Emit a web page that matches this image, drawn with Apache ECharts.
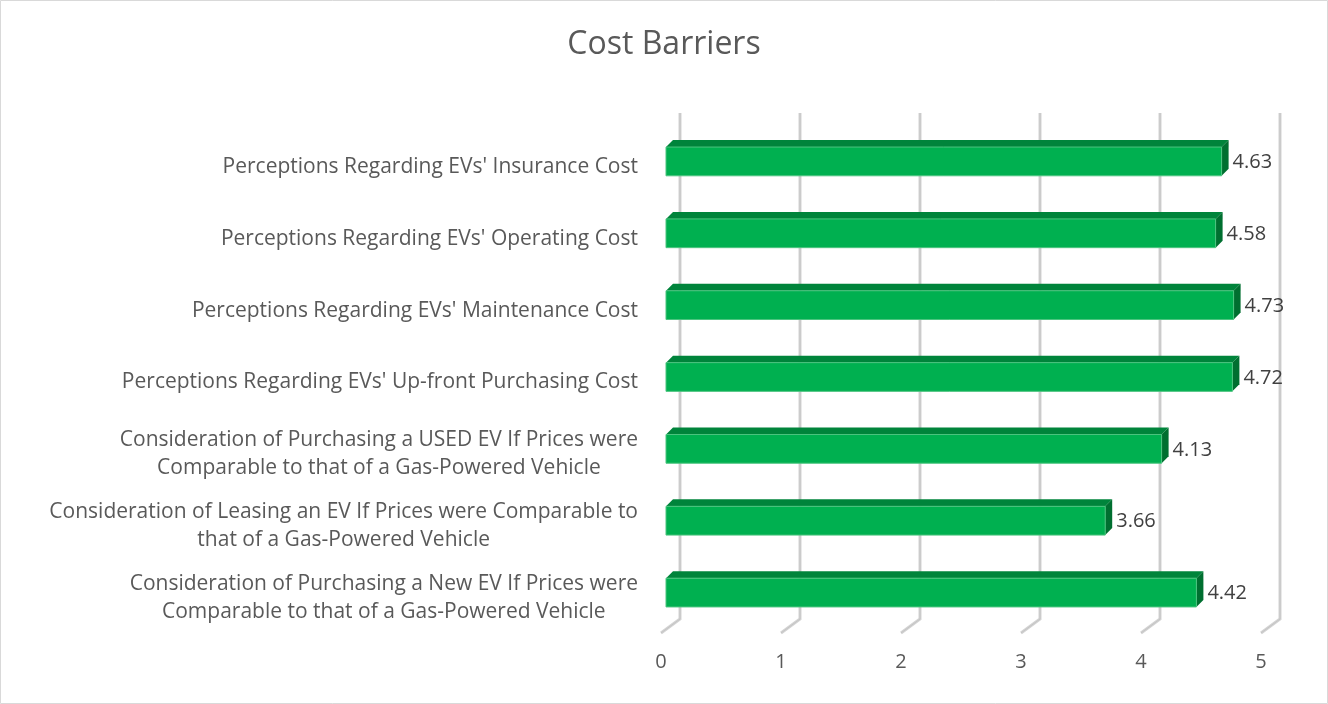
<!DOCTYPE html>
<html>
<head>
<meta charset="utf-8">
<title>Cost Barriers</title>
<script src="https://cdn.jsdelivr.net/npm/echarts@6/dist/echarts.min.js"></script>
<style>
  html, body { margin: 0; padding: 0; background: #fff; }
  #main { width: 1328px; height: 704px; }
</style>
</head>
<body>
<div id="main"></div>
<script>
// categories, top to bottom
var categories = [
    "Perceptions Regarding EVs' Insurance Cost",
    "Perceptions Regarding EVs' Operating Cost",
    "Perceptions Regarding EVs' Maintenance Cost",
    "Perceptions Regarding EVs' Up-front Purchasing Cost",
    "Consideration of Purchasing a USED EV If Prices were\nComparable to that of a Gas-Powered Vehicle",
    "Consideration of Leasing an EV If Prices were Comparable to\nthat of a Gas-Powered Vehicle",
    "Consideration of Purchasing a New EV If Prices were\nComparable to that of a Gas-Powered Vehicle"
];
var scores = [4.63, 4.58, 4.73, 4.72, 4.13, 3.66, 4.42];
var ticks = [0, 1, 2, 3, 4, 5];

var FONT = '"Open Sans"';
// 3d look: depth offsets
var barShift = 5, barDx = 7, barDy = 7;
var wallDx = 19, wallDy = 14;

var myChart = echarts.init(document.getElementById('main'));

// back wall lines + floor diagonals
function renderWall(params, api) {
    var cs = params.coordSys;
    var x = api.coord([api.value(0), 0])[0];
    var yTop = cs.y - 17;
    var yBot = cs.y + cs.height - wallDy;
    var pts = [[x + wallDx, yTop], [x + wallDx, yBot], [x, yBot + wallDy]];
    return {
        type: 'group',
        children: [
            { type: 'polyline', shape: { points: pts }, style: { stroke: '#d3d3d3', lineWidth: 3, fill: null } },
            { type: 'polyline', shape: { points: pts }, style: { stroke: '#c4c4c4', lineWidth: 1, fill: null } }
        ]
    };
}

// 3d-ish bar: front + top + right side
function renderBar(params, api) {
    var cat = api.value(0), val = api.value(1);
    var p0 = api.coord([0, cat]);
    var p1 = api.coord([val, cat]);
    var h = api.size([0, 1])[1] * 0.40;
    var x0 = p0[0] + barShift, x1 = p1[0] + barShift;
    var top = p0[1] - 4.5 - h / 2, bot = top + h;
    return {
        type: 'group',
        children: [
            { type: 'polygon', shape: { points: [[x0, top], [x1, top], [x1 + barDx, top - barDy], [x0 + barDx, top - barDy]] },
              style: { fill: '#00843b' } },
            { type: 'polygon', shape: { points: [[x1, top], [x1 + barDx, top - barDy], [x1 + barDx, bot - barDy], [x1, bot]] },
              style: { fill: '#006f30' } },
            { type: 'rect', shape: { x: x0, y: top, width: x1 - x0, height: h },
              style: { fill: '#00b050', stroke: '#4cc47f', lineWidth: 1 } },
            { type: 'text', style: { text: val.toFixed(2), x: x1 + barDx + 4, y: (top + bot) / 2 + 1,
              verticalAlign: 'middle', align: 'left', fill: '#404040', fontSize: 20, fontFamily: FONT } }
        ]
    };
}

var option = {
    backgroundColor: '#fff',
    animation: false,
    title: {
        text: 'Cost Barriers',
        left: 'center',
        top: 24,
        textStyle: { fontSize: 32, fontWeight: 'normal', color: '#595959', fontFamily: FONT }
    },
    graphic: [{
        type: 'rect',
        shape: { x: 0.5, y: 0.5, width: 1327, height: 703 },
        style: { fill: null, stroke: '#d9d9d9', lineWidth: 1 },
        silent: true
    }],
    grid: { left: 661, right: 67, top: 130, bottom: 71, outerBoundsMode: 'none' },
    xAxis: {
        type: 'value',
        min: 0,
        max: 5,
        interval: 1,
        axisLine: { show: false },
        axisTick: { show: false },
        splitLine: { show: false },
        axisLabel: { fontSize: 20, color: '#595959', fontFamily: FONT, margin: 19 }
    },
    yAxis: {
        type: 'category',
        inverse: true,
        data: categories,
        axisLine: { show: false },
        axisTick: { show: false },
        axisLabel: {
            margin: 23,
            formatter: function (v) {
                return v.split('\n').map(function (s) { return '{c|' + s + '}'; }).join('\n');
            },
            rich: {
                c: { align: 'center', fontSize: 21, lineHeight: 28, color: '#595959', fontFamily: FONT, padding: [2, 0, 0, 0] }
            }
        }
    },
    series: [
        {
            name: 'wall',
            type: 'custom',
            silent: true,
            z: 1,
            renderItem: renderWall,
            encode: { x: 0, y: 1 },
            data: ticks.map(function (t) { return [t, 0]; })
        },
        {
            name: 'Cost Barriers',
            type: 'custom',
            z: 2,
            renderItem: renderBar,
            encode: { x: 1, y: 0 },
            data: scores.map(function (v, i) { return [i, v]; })
        }
    ]
};

myChart.setOption(option);
</script>
</body>
</html>
